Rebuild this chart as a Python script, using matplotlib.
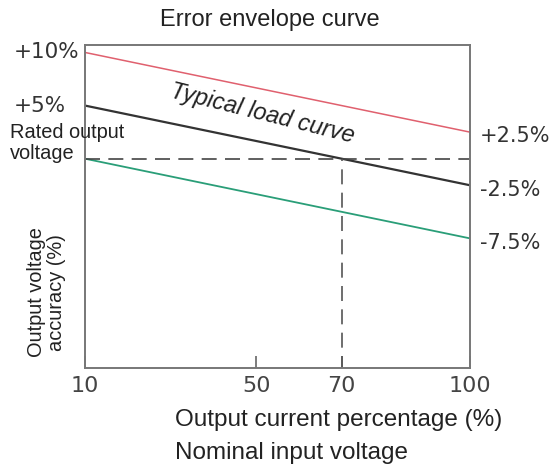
import matplotlib
matplotlib.use("Agg")
import matplotlib.pyplot as plt
import matplotlib.transforms as mtransforms

# load line end points (output current %, output voltage accuracy %)
current = [10, 100]
upper = [10.0, 2.5]      # upper error envelope
typical = [5.0, -2.5]    # typical load curve
lower = [0.0, -7.5]      # lower error envelope
rated_current = 70
x_ticks = [10, 50, 70, 100]
left_labels = ["+10%", "+5%"]
right_labels = ["+2.5%", "-2.5%", "-7.5%"]

fig = plt.figure(figsize=(5.51, 4.67), dpi=100)
ax = fig.add_axes([0.1543, 0.212, 0.6987, 0.6916])

ax.plot(current, upper, color="#e0606e", linewidth=1.1)
ax.plot(current, typical, color="#333333", linewidth=1.6)
ax.plot(current, lower, color="#2a9e78", linewidth=1.3)

# rated output voltage reference and 70% marker
ax.plot([current[0], current[1]], [0, 0], color="#444444", linewidth=1.2,
        dashes=(9, 5))
ax.plot([rated_current, rated_current], [-20, 0], color="#555555",
        linewidth=1.2, dashes=(9, 5))

ax.set_xlim(current[0], current[1])
ax.set_ylim(-19.7, 10.7)
ax.set_yticks([])
ax.set_xticks(x_ticks)
ax.set_xticklabels([str(t) for t in x_ticks])
ax.tick_params(axis="x", direction="in", length=9, width=1.2,
               color="#666666", labelsize=16, labelcolor="#444444", pad=6)
for s in ax.spines.values():
    s.set_color("#777777")
    s.set_linewidth(1.4)

sans = "Liberation Sans"
trans = mtransforms.blended_transform_factory(ax.transAxes, ax.transData)
for lab, val in zip(left_labels, [upper[0], typical[0]]):
    ax.text(-0.186, val, lab, transform=trans, ha="left", va="center",
            fontsize=15.5, color="#333333")
ax.text(-0.195, 1.5, "Rated output\nvoltage", transform=trans, ha="left",
        va="center", fontsize=14.4, family=sans, color="#222222",
        linespacing=1.15, clip_on=False)
for lab, val in zip(right_labels, [upper[1], typical[1], lower[1]]):
    ax.text(1.025, val - 0.4, lab, transform=trans, ha="left", va="center",
            fontsize=15, color="#333333")

ax.text(51.5, 4.2, "Typical load curve", rotation=-14, ha="center",
        va="center", fontsize=17, style="italic", family=sans,
        color="#222222", rotation_mode="anchor")

ax.text(-0.1, 0.235, "Output voltage\naccuracy (%)", transform=ax.transAxes,
        rotation=90, ha="center", va="center", fontsize=14.4, family=sans,
        color="#222222", linespacing=1.08)

fig.text(0.49, 0.957, "Error envelope curve", ha="center", va="center",
         fontsize=17, family=sans, color="#222222")
fig.text(0.318, 0.1, "Output current percentage (%)", ha="left",
         va="center", fontsize=17.5, family=sans, color="#222222")
fig.text(0.318, 0.03, "Nominal input voltage", ha="left", va="center",
         fontsize=17.5, family=sans, color="#222222")

fig.savefig("out.png", dpi=100)
